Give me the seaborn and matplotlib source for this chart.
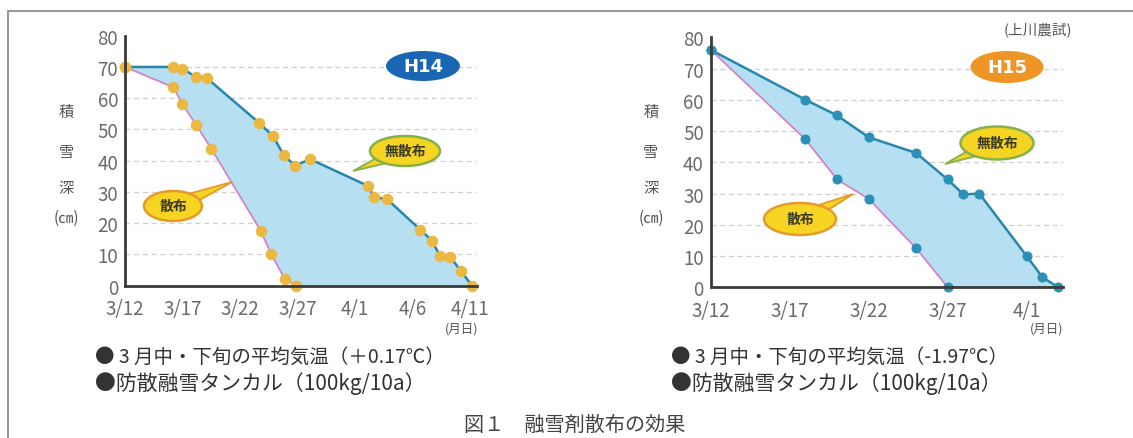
import numpy as np
import matplotlib
matplotlib.use("Agg")
import matplotlib.pyplot as plt
import matplotlib.patches as mpatches
import seaborn as sns

# H14 (days since 3/12, snow depth cm)
h14_days_mu = [0, 4.2, 5, 6.2, 7.1, 11.7, 12.9, 13.8, 14.8, 16.1, 21.1, 21.7, 22.8, 25.7, 26.7, 27.4, 28.3, 29.2, 30.2]
h14_snow_mu = [70, 70, 69.5, 66.7, 66.5, 52, 47.8, 41.8, 38.4, 40.5, 32, 28.3, 27.7, 17.9, 14.4, 9.6, 9.3, 4.8, 0]
h14_days_san = [0, 4.2, 5, 6.2, 7.5, 11.8, 12.7, 13.9, 14.9]
h14_snow_san = [70, 63.5, 58.1, 51.4, 43.9, 17.6, 10.3, 2.1, 0]
h14_ticks = ["3/12", "3/17", "3/22", "3/27", "4/1", "4/6", "4/11"]

# H15
h15_days_mu = [0, 6, 8, 10, 13, 15, 16, 17, 20, 21, 22]
h15_snow_mu = [76, 60, 55, 48, 43, 34.5, 29.7, 30, 10, 3.2, 0]
h15_days_san = [0, 6, 8, 10, 13, 15]
h15_snow_san = [76, 47.3, 34.5, 28.3, 12.5, 0]
h15_ticks = ["3/12", "3/17", "3/22", "3/27", "4/1"]

yticks = list(range(0, 81, 10))

sns.set_style("white")
plt.rcParams['font.family'] = ['Noto Sans CJK JP', 'DejaVu Sans']

W, H = 1133, 439
fig = plt.figure(figsize=(W / 100, H / 100), dpi=100)


def fx(x):
    return x / W


def fy(y):
    return 1 - y / H


C_UP = "#2787ad"
C_LOW = "#d67cc0"
C_FILL = "#b6dff1"
C_YEL = "#f5d422"
C_GRAY = "#6b6b6b"


def draw_panel(ax, du, su, dl, sl, ticks, mcolor, msize, xmax):
    # filled band between the two curves
    ax.fill(np.r_[du, dl[::-1]], np.r_[su, sl[::-1]], color=C_FILL, lw=0, zorder=1)
    sns.lineplot(x=du, y=su, ax=ax, color=C_UP, lw=1.8, marker="o", ms=msize,
                 mfc=mcolor, mec=mcolor, clip_on=False, zorder=3)
    sns.lineplot(x=dl, y=sl, ax=ax, color=C_LOW, lw=1.2, marker="o", ms=msize,
                 mfc=mcolor, mec=mcolor, clip_on=False, zorder=3)
    ax.set_xlim(0, xmax)
    ax.set_ylim(0, 80)
    ax.set_yticks(yticks)
    ax.set_xticks(range(0, 5 * len(ticks), 5), ticks)
    ax.set_xlabel("")
    ax.set_ylabel("")
    ax.grid(axis="y", color="#cfcfcf", ls=(0, (4, 3)), lw=0.9)
    gl = ax.get_ygridlines()
    gl[0].set_visible(False)
    gl[-1].set_visible(False)
    ax.set_axisbelow(True)
    for s in ["top", "right"]:
        ax.spines[s].set_visible(False)
    for s in ["left", "bottom"]:
        ax.spines[s].set_color("#3a3a3a")
        ax.spines[s].set_linewidth(2)
        ax.spines[s].set_zorder(4)
    ax.tick_params(axis="y", length=0, pad=5, labelsize=13.5, labelcolor=C_GRAY)
    ax.tick_params(axis="x", direction="in", length=5, color="#999999", pad=9,
                   labelsize=13.5, labelcolor=C_GRAY)
    ax.patch.set_alpha(0)


def ellipse_label(cx, cy, w, h, text, fc):
    fig.add_artist(mpatches.Ellipse((fx(cx), fy(cy)), w / W, h / H, transform=fig.transFigure,
                                    fc=fc, ec="none", zorder=5))
    fig.text(fx(cx), fy(cy), text, ha="center", va="center", color="white",
             fontsize=13, fontweight="bold", family="DejaVu Sans", zorder=6)


def bubble(cx, cy, w, h, tx, ty, text, ec):
    v = np.array([tx - cx, ty - cy], dtype=float)
    n = np.array([-v[1], v[0]]) / np.hypot(*v)
    base = np.array([cx, cy]) + v * 0.35
    p1 = base + n * 5
    p2 = base - n * 5
    pts = [(fx(p1[0]), fy(p1[1])), (fx(tx), fy(ty)), (fx(p2[0]), fy(p2[1]))]
    fig.add_artist(mpatches.Polygon(pts, closed=True, transform=fig.transFigure,
                                    fc=C_YEL, ec=ec, lw=1.3, zorder=5))
    fig.add_artist(mpatches.Ellipse((fx(cx), fy(cy)), w / W, h / H, transform=fig.transFigure,
                                    fc=C_YEL, ec=ec, lw=1.8, zorder=5))
    fig.text(fx(cx), fy(cy), text, ha="center", va="center", color="#3a3a22",
             fontsize=10, fontweight="bold", zorder=6)


# outer frame
fig.add_artist(plt.Line2D([fx(8), 1], [fy(12), fy(12)], transform=fig.transFigure,
                          color="#9a9a9a", lw=1.5))
fig.add_artist(plt.Line2D([fx(8), fx(8)], [fy(12), 0], transform=fig.transFigure,
                          color="#9a9a9a", lw=1.5))

ax1 = fig.add_axes([fx(125), fy(286.7), 351.7 / W, 250 / H])
draw_panel(ax1, np.array(h14_days_mu), np.array(h14_snow_mu), np.array(h14_days_san),
           np.array(h14_snow_san), h14_ticks, "#ebb841", 7.5, 30.6)

ax2 = fig.add_axes([fx(710.7), fy(288.3), 352.3 / W, 250 / H])
draw_panel(ax2, np.array(h15_days_mu), np.array(h15_snow_mu), np.array(h15_days_san),
           np.array(h15_snow_san), h15_ticks, "#2b90b8", 6.5, 22.3)

# vertical y labels
for x0 in [66, 651]:
    for ch, yy in zip(["積", "雪", "深", "(㎝)"], [112, 152, 189, 218]):
        fig.text(fx(x0), fy(yy), ch, ha="center", va="center", fontsize=11, color="#555555")

fig.text(fx(478), fy(329), "(月日)", ha="right", va="center", fontsize=9, color="#555555")
fig.text(fx(1063), fy(329), "(月日)", ha="right", va="center", fontsize=9, color="#555555")
fig.text(fx(1072), fy(30), "(上川農試)", ha="right", va="center", fontsize=10.5, color="#555555")

ellipse_label(423, 67, 74, 30, "H14", "#1a66b3")
ellipse_label(1007, 68, 73, 32, "H15", "#ee9526")

bubble(405, 152, 70, 30, 353, 172, "無散布", "#86b04a")
bubble(173, 207, 58, 30, 232, 183, "散布", "#e59a2c")
bubble(997, 144, 73, 33, 945, 165, "無散布", "#86b04a")
bubble(800, 220, 72, 32, 853, 195, "散布", "#e59a2c")

# notes below the charts
fig.text(fx(95), fy(357), "● 3 月中・下旬の平均気温（＋0.17℃）", ha="left", va="center",
         fontsize=14, color="#333333")
fig.text(fx(95), fy(384), "●防散融雪タンカル（100kg/10a）", ha="left", va="center",
         fontsize=15, color="#333333")
fig.text(fx(671), fy(357), "● 3 月中・下旬の平均気温（-1.97℃）", ha="left", va="center",
         fontsize=14, color="#333333")
fig.text(fx(671), fy(384), "●防散融雪タンカル（100kg/10a）", ha="left", va="center",
         fontsize=15, color="#333333")
fig.text(fx(575), fy(425), "図１　融雪剤散布の効果", ha="center", va="center",
         fontsize=14.5, color="#444444")

fig.savefig("out.png", dpi=100)
